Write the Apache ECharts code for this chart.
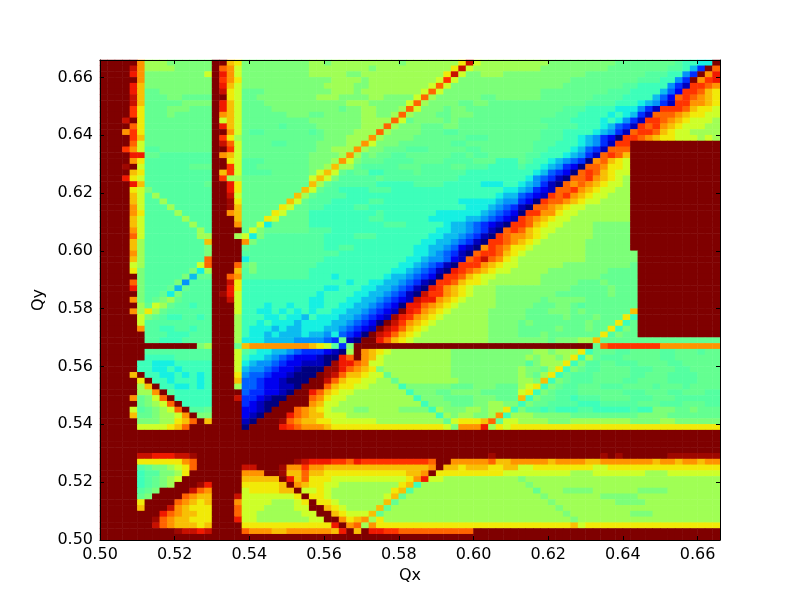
<!DOCTYPE html>
<html><head><meta charset="utf-8">
<style>html,body{margin:0;padding:0;background:#fff}#c{width:800px;height:600px}</style>
<script src="https://cdn.jsdelivr.net/npm/echarts@6/dist/echarts.min.js"></script>
</head><body><div id="c"></div>
<script>
// Value legend for the row codes (normalised colour-scale level)
const levelCodes = "ABCDEFGHIJKLMNOPQRSTUVW";
const levelValues = [0,.06,.11,.17,.22,.27,.31,.36,.42,.45,.47,.50,.54,.59,.65,.70,.75,.80,.85,.89,.93,.97,1];
const xTicks = [0.50,0.52,0.54,0.56,0.58,0.60,0.62,0.64,0.66];
const yTicks = [0.50,0.52,0.54,0.56,0.58,0.60,0.62,0.64,0.66];
// Top row (Qy=0.664) first; run-length coded, three column blocks
const rows = [
"W5QM3L6W2POL9 M2LM9LM7OUNM5 M4L9K8JI2H2W",
"W4UQM4L5WRQNL9 M8LM10OUNM6 M3L9K8J2IGDWR",
"W4TQL8NWTQNL9 M5L2M11OUNL2M3L2 L9K8J3I2FDWQT",
"W5QL9WSQOL9 L3M4LM9NSNL8 L7K9J3I2FDWQST",
"W4TPL9WTPNL9 L2M4L2M8NRNL9 L6K8J2I4FDBS2RQ",
"W4TPK2L7WUONK3L6 L3M3LM8NRNL10 L3K9J3I4GECS2RPO",
"W4UPK3L2K4W2ONK2L7 LM3L4M2L4NRML6K2L3 L3K7J4I4GECRSRQPO",
"W4UPK5L4WTPNK3L6 L5M3L5NRML4K2L2K4 K9J4I3HGFDBS2Q2PO",
"W4SOK3L3K3WTPNK4L5 L4KL2M2L3MRNL3KL2K7 K6J3I4H2HFDBS3RPO2N",
"W4SOK3LK5WQPNK6L3 K2L5M2L2MRML3K2L3K6 K5J3I4HIHGDBR3QPO2N2",
"W3UWOK9WNPNK9 L7M3MRNKL4KLK8 K3J4I4HIHFDBS2RQPON3M",
"W4ROK9WTPNK5JK3 KL6M2MRML3K3L2K8 K4J4I3HGEDBSRSQPON3M2",
"W3QSOK9W2QNKJ2K6 JKL4M2MRML4K3J2K8 K3J3I3IHGFDBRS2RPON2M4",
"W4SPK9WSOMK9 K2L3M2MQML4K7J3K4 K3J3I2HGFDCAS2RQPO2N3MNM",
"W4RNK9WURNK4J2K3 KL4MMQNL3K7J2K7 K2J3I2IHGFDBS2W12",
"W3SQNJ2K7W2SNK9 KL2M2MQML2K3J3K5J2K5 K2J2I2IHGEDBR3W12",
"W4T2K2J7WQPNK9 L4MQMKLK2J2K6J2KJ2K4 KJ2I2IHGFDBRSRPW12",
"W4QOJ9W2ONJ3K6 L3MQNLK3J4K4J4K3I3 KJI2HGFEDAQRPONW12",
"W3VWNJ6K3W2SNJ2K7 L2MPMMKJ5K3J4K2J3I4 JI2HGFDCAR2QO2NW12",
"W4POJ9WPSNJ4K5 LNPNKJK2I2J4KJ6I5 I2HGEDCARSRPON2W12",
"W3TONJ9WSMMK9 NPNLJ5KJ4J6I8 IHFEDBAR2SQPONMW12",
"W4TPJ8KW2TOK9 PMKJ6I5J4I5H3I2 HGFDBARQRQPON2MW12",
"W4ONLJ8W2TOK8P NKJ2I4J3I15H2 GFDCBR2SQPON2M2W12",
"W4PNJMJ7W2UNK7PM KJ4I18I2HG2 EDCBSRSQPON2M3W12",
"W4PNJ2MJ6W2VOK6PNK J3I5J2I10H3H2GF2 DCASR2QPON2M4W12",
"W4QNJ3MJ5W2VPK5ONK2 J2I4J2I13H3GFED BAR2QPON2M6W12",
"W4QOJ4MJ4W2QPK4ONK3 I9JI7H4H2GFEDC AS2Q2ON2M7W12",
"W4PNJ5MJ3W3PK3ONK4 I8J2I6H3H2G2FEDCB SRQPON2M8W12",
"W4PNJ6MJ2W3QK2NHK5 I10J3I4IHG2FEDCBAS SRPON2M4L5W12",
"W4QNJ7MJW4KNLK6 J3I13IH2G2FEDBARS RPON2M5L5W12",
"W4RNJ7M2W3MNHLJ6 J2I4J3I6IH2G2FEDBASRQ QPONM6L5W12",
"W4PMJ8PW4QLJ7 J2I12IH2G2FEDBAS2RQ PONM6L6W12",
"W4PMJ8LW4KJ8 J2I2J2I7IH2G2FECBAQSRQO ONM7L6W12",
"W4QMJ8LW4J9 J4I9IH2GFEDBARS2RPO NM8L7W11",
"W4PMJ8RW4HJ8 J2I10IH2GF2ECBRSURQON M9L7W11",
"W4NMJ7NRW3RKLJ7 JI10IH2GFEDBAS3QPON2 M6L9KW11",
"W4OLJ6LHMW3PJLJ7 I10IH2GFEDBATSRQPON2M M4L8K4W11",
"W5LJ5LGK2W2RQJ9 I3HI5IHG2FEDCAS2RPON2M3 M3L8K5W11",
"W4RLJ4LFJ3W2UOI9 I5HIIH2G2FEDBAS2RPO2NM4 M3L5K3LK4W11",
"W4TLJ3KGKJ3W2TOI9 I2H2I2IH2G2FEDBATSQPONM3L3 L7K5LK3W11",
"W5LJ2KHLJ4WVTNI9 IHI3IH2G2FEDBAUS2QPONM3L3 L5K7LK3W11",
"W4QLJKLMKJ4W2UNI9 H2I2IH2G2FEDCBUT2QPONM4L3 L3KL5K7W11",
"W5MKNMKJ2IJ2W3NI3HI2HI2 H2IIH2G2FEDCAT2RQPONM5L3 L2K3L2KJK7W11",
"W4QMOMKJ6W3NI2H2IHIHI HIIH2G2FEDCBWTSQPONM5L4 LK3L3KLK6PW11",
"W5NLKJI2J2IJW3MI3H2IH2G IH3G2FEDCBVTSQPONM6L4 LK5LK3LK3OIW11",
"W5NJ9W3MI2HIH3GH H3G2FEDCAWUSQPONM7L4 KLK7LK3OIKW11",
"W5QJ2I2J2IJ2W3MIH3GHG2H H2G2FEDCBWUTRPONM8L4 K5LK3LK2OILKW11",
"W6J3I3J3W3MIH2GHG3H G2FHEDCAWUTRPONM9L4 K3LK7OJLK2W11",
"W6J2I3J4W3MH3G4F2 F2EDKBAW2TRPONM10L4 L4KL3M2PKK15",
"W13LMW3KPQ8 PONJDLW22 W10KRS7Q8",
"W6J9W3NJIH2G2FED D2CBAMWQPONM8L9 L2M2LM3OIK3J2K4J2K3JK2",
"W6I4J5W3NIH2GFEDC2 CBA2TRWQPNM9L9 LMLM2LMOIMKJ3K5J2K6",
"W5I2H3I5W3NHGF2EDC2B B2AVT2RQN2M9L9 LJLM3OILJ2K2J3K4J2K4",
"W5I2H2IHI4W3NGF2EDC2BA A2V2TRQPOLM9L9 ML2KMOILKJ2K4J3K3J2K3",
"W4PWI2H2IHIHIW3OFE2DC2BA2 AWVURP2ON2KM8L9 MLKMOIKJ3K5J2K3J4K3",
"W5OWI2HI3HIW3PE2DC2BA3 W2URPO2N2M2KM8L8 M2LPILKJ3K4J2K4J4K2",
"W5MPWI2H2IHIW3ME2DC2B2AW W2RPO2N2M4IL6K3L3K3 MNOILKJ2K3J3K4JK3JK4",
"W5MMQWJI5W4ED2C2BAW2 TRPON2M7IL3K2L4K5 NOILKJ3K6J3K3J2K3J2",
"W4QKLNRWI5W3UD2CBA2W3 RQON2M9IL3K4L3K3 PILK2J2IJ3K4J3K3J3",
"W5KLMNRWI4W4DCBA2W4 QPN2M11IL3K3L2M2L2 ILK2J4I3J5K3J3K3J2",
"W4NJKLMNRWJ2KW4C2BAW3RQ PONM3L2M4L4IML3M2LM2OI LJ2IJI3J2I5JI2L3K2LK3",
"W4PK2LM2NQWL2W4CBAW3TRQ P2NN2M12IMLM2L2MQIM M2L5K9L4K7",
"W5L3M2OPRWPW4BAW3VRQP PO2N6M9KNO3PRKN2 M4L3M8L4M2L6",
"W5N4OPRW3W4AW4TSRQ Q2PO15NLQ3TMONO O27",
"W28 W28 W27","W28 W28 W27","W28 W28 W27","W28 W28 W27",
"W5U2T3U2VW15 W24VW3 W11VWVW6V7",
"W5O6QRW13VU T3S2RTS9RW2QQ4RP2Q Q4PQ4P2Q7PQ2PQ2PQ2",
"W5JKL2MNORW6U2W3VQ2S Q2P14QWP2OP3O2P2 N2O8N2O15",
"W5IJ2L2MOW7Q3W2VP2R P2O11P2QWO9N2 N7M3N7M3N7",
"W5IJKLMNW8P5WTPR O3N10OQTN2M10 LM26",
"W5IJKLMW3VTW4O5PWQP O2N2M8OPIM13 MLM25",
"W5JKLW4URQW4NO4P2WN NONM8OPJM14 M2KM3L4M6L4M7",
"W5KLW4RQP2W3UN7OW O2NM7NPKM15 M3LM7L5M11",
"W5OW4RQPOPW3QN4M3NO WO2NM6PKM16 M4LM8L4M10",
"W5PW3UQPO3W3RN3M4N2 W2PONM4PKM17 M5LM21",
"W8TRQP2O2W3RN2M6N NW2PON3PKM18 M6LM8L3M9",
"W7VRQP2O3W3TN2M7 N2W2QOPQMOM18 M7LM19",
"W7URQP3OPW4O9 O3TWQRMQOO18 O7PNO18",
"W10VU2TUW4RQ3P2Q3 Q3PTWPWT2S2R10W6 W27",
"W28 W28 W27"
];
const blockSizes = [28,28,27];
const qxCategories = Array.from({length:83},(_,i)=>(0.5+i*0.002).toFixed(3));
const qyCategories = Array.from({length:83},(_,i)=>(0.5+i*0.002).toFixed(3));

function decodeBlock(s,n){
  let out="";
  s.replace(/([A-W])(\d*)/g,(m,c,d)=>{out+=c.repeat(d?+d:1);return m;});
  while(out.length<n) out+=out[out.length-1];
  return out.slice(0,n);
}
const cells=[];
rows.forEach((row,k)=>{
  const line=row.split(" ").map((b,i)=>decodeBlock(b,blockSizes[i])).join("");
  for(let c=0;c<83;c++) cells.push([c,82-k,levelValues[levelCodes.indexOf(line[c])]]);
});
const font="'DejaVu Sans'";
const common={min:0.5,max:0.666,interval:0.02,z:6};
const line={show:true,lineStyle:{color:"#000",width:1}};
const tick={show:true,inside:true,length:4,lineStyle:{color:"#000",width:1}};
const lab={show:true,color:"#000",fontFamily:font,fontSize:16,margin:7,showMaxLabel:false,
  formatter:v=>{const s=(+v).toFixed(2);return xTicks.some(t=>t.toFixed(2)===s)&&Math.abs(v-+s)<1e-6?s:"";}};
const nameStyle={color:"#000",fontFamily:font,fontSize:16};
const chart=echarts.init(document.getElementById("c"),null,{renderer:"canvas"});
chart.setOption({
  animation:false,
  backgroundColor:"#fff",
  grid:{left:100,top:60,width:620,height:480,containLabel:false},
  xAxis:[
    {type:"category",data:qxCategories,show:false,boundaryGap:true},
    {type:"value",position:"bottom",...common,axisLine:line,axisTick:tick,axisLabel:lab,splitLine:{show:false},
     name:"Qx",nameLocation:"middle",nameGap:23,nameTextStyle:nameStyle},
    {type:"value",position:"top",...common,axisLine:line,axisTick:tick,axisLabel:{show:false},splitLine:{show:false}}
  ],
  yAxis:[
    {type:"category",data:qyCategories,show:false,boundaryGap:true},
    {type:"value",position:"left",...common,axisLine:line,axisTick:tick,axisLabel:lab,splitLine:{show:false},
     name:"Qy",nameLocation:"middle",nameGap:39,nameRotate:90,nameTextStyle:nameStyle},
    {type:"value",position:"right",...common,axisLine:line,axisTick:tick,axisLabel:{show:false},splitLine:{show:false}}
  ],
  visualMap:{show:false,type:"continuous",min:0,max:1,dimension:2,seriesIndex:0,
    inRange:{color:["#00007f","#0000ff","#007fff","#19ffde","#7cff79","#edff0a","#ff9400","#ff1c00","#7f0000"]}},
  series:[{type:"heatmap",xAxisIndex:0,yAxisIndex:0,data:cells,progressive:0,
    itemStyle:{borderWidth:0},emphasis:{disabled:true},silent:true}]
});
</script></body></html>
